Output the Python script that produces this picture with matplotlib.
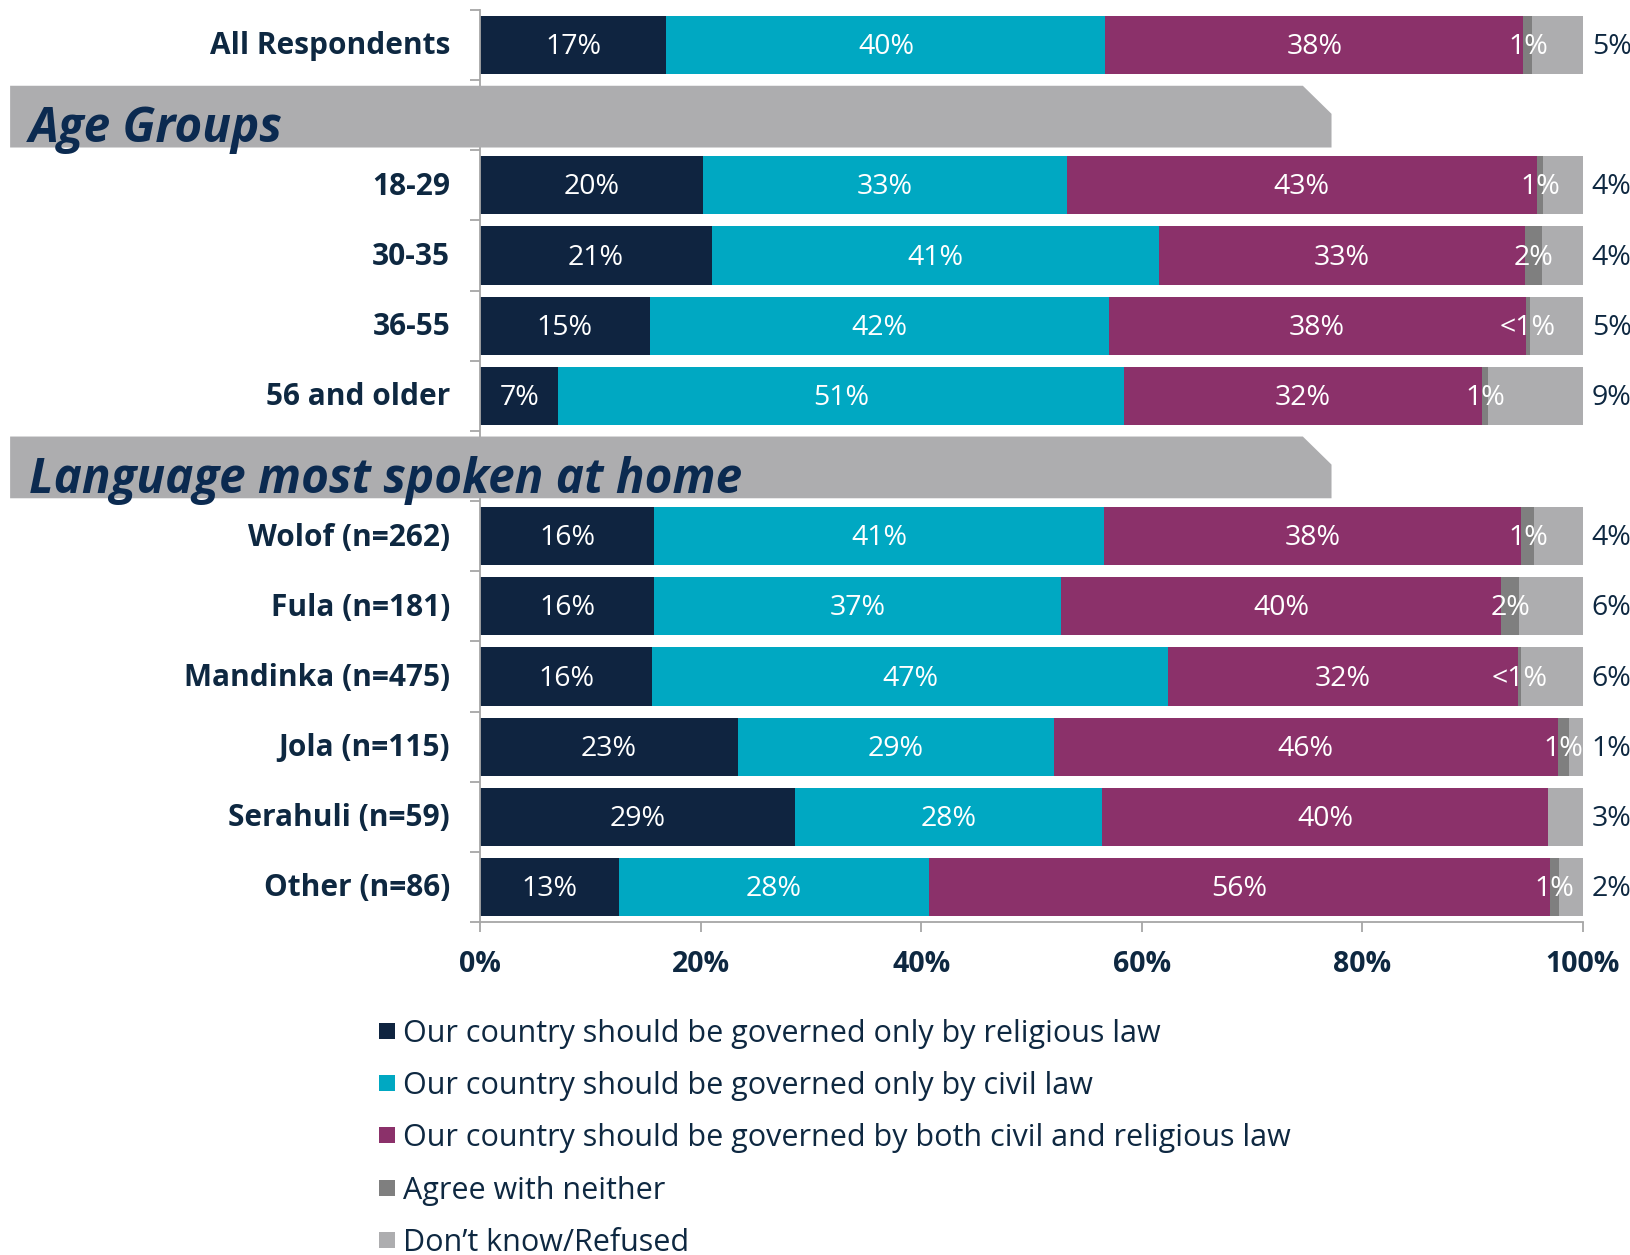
import matplotlib
matplotlib.use('Agg')
import matplotlib.pyplot as plt
from matplotlib.patches import Polygon, Rectangle

plt.rcParams['font.family'] = ['Open Sans', 'DejaVu Sans']

#  Survey rows (percentages per answer)
categories = ['All Respondents',
              '18-29', '30-35', '36-55', '56 and older',
              'Wolof (n=262)', 'Fula (n=181)', 'Mandinka (n=475)',
              'Jola (n=115)', 'Serahuli (n=59)', 'Other (n=86)']
religious = [16.9, 20.2, 21.0, 15.4, 7.1, 15.8, 15.8, 15.6, 23.4, 28.6, 12.6]
civil = [39.8, 33.0, 40.6, 41.6, 51.3, 40.8, 36.9, 46.8, 28.6, 27.8, 28.1]
both = [37.9, 42.6, 33.1, 37.8, 32.4, 37.8, 39.9, 31.7, 45.7, 40.4, 56.3]
neither = [0.8, 0.6, 1.6, 0.4, 0.6, 1.2, 1.6, 0.3, 1.0, 0.0, 0.8]
dont_know = [4.6, 3.6, 3.7, 4.8, 8.6, 4.4, 5.8, 5.6, 1.3, 3.2, 2.2]

#  Group headers and how many rows sit under each
sections = ['', 'Age Groups', 'Language most spoken at home']
section_sizes = [1, 4, 6]

series_names = ['Our country should be governed only by religious law',
                'Our country should be governed only by civil law',
                'Our country should be governed by both civil and religious law',
                'Agree with neither',
                'Don\u2019t know/Refused']
series_colors = ['#0F2440', '#00A8C2', '#8B316A', '#7F7F7F', '#ADADAF']
text_color = '#0E2841'
axis_color = '#A6A6A6'

W, H = 1631, 1255
fig = plt.figure(figsize=(W / 100, H / 100), dpi=100)
ax = fig.add_axes([480 / W, 1 - 922 / H, (1583 - 480) / W, (922 - 10) / H])

#  Slot positions: a header slot in front of every named section
bar_slots = []
header_slots = []
slot = 0
for name, size in zip(sections, section_sizes):
    if name:
        header_slots.append((name, slot))
        slot += 1
    for _ in range(size):
        bar_slots.append(slot)
        slot += 1
n_slots = slot

series = [religious, civil, both, neither, dont_know]
lefts = [0.0] * len(categories)
for k, values in enumerate(series):
    ax.barh(bar_slots, values, left=lefts, height=0.83,
            color=series_colors[k], edgecolor='none', zorder=2)
    for i, v in enumerate(values):
        ty = bar_slots[i] + 0.03
        if k == 4:
            #  Don't know goes outside the bar
            ax.text(100.8, ty, f'{v:.0f}%', ha='left', va='center',
                    color=text_color, fontsize=20.5, clip_on=False)
        elif v > 0:
            label = '<1%' if v < 0.5 else f'{v:.0f}%'
            ax.text(lefts[i] + v / 2, ty, label, ha='center',
                    va='center', color='white', fontsize=20.5, zorder=3)
    lefts = [a + b for a, b in zip(lefts, values)]

#  Category names
for name, s in zip(categories, bar_slots):
    ax.text(-2.7, s + 0.02, name, ha='right', va='center', color=text_color,
            fontsize=21.5, fontweight='bold', clip_on=False)

#  Gray section banners with clipped top-right corner
x0, x1 = -42.6, 77.2
cut_x, cut_y = 2.6, 0.4
for name, s in header_slots:
    top, bottom = s - 0.42, s + 0.46
    pts = [(x0, top), (x1 - cut_x, top), (x1, top + cut_y),
           (x1, bottom), (x0, bottom)]
    ax.add_patch(Polygon(pts, closed=True, facecolor='#ADADAF',
                         edgecolor='none', clip_on=False, zorder=4))
    ax.text(-40.9, s + 0.38, name, ha='left', va='baseline',
            color='#0B2A50', fontsize=34.3, fontweight='bold',
            fontstyle='italic', clip_on=False, zorder=5)

ax.set_xlim(0, 100)
ax.set_ylim(n_slots - 0.5, -0.5)
ax.set_xticks(range(0, 101, 20))
ax.set_xticklabels([f'{t}%' for t in range(0, 101, 20)],
                   fontsize=20.5, fontweight='bold', color=text_color)
ax.set_yticks([i - 0.5 for i in range(n_slots + 1)])
ax.set_yticklabels([])
ax.tick_params(axis='x', length=7, width=1.3, color=axis_color, pad=13)
ax.tick_params(axis='y', length=7, width=1.3, color=axis_color)
for side in ['top', 'right']:
    ax.spines[side].set_visible(False)
for side in ['left', 'bottom']:
    ax.spines[side].set_color(axis_color)
    ax.spines[side].set_linewidth(1.3)

#  Legend drawn by hand below the axis
for k, name in enumerate(series_names):
    y = 1042 + k * 52.2
    fig.patches.append(Rectangle((379 / W, 1 - (y - 3) / H), 16 / W, 16 / H,
                                 transform=fig.transFigure,
                                 facecolor=series_colors[k], edgecolor='none'))
    fig.text(403 / W, 1 - y / H, name, ha='left', va='baseline',
             color=text_color, fontsize=22)

fig.savefig('out.png', dpi=100)
